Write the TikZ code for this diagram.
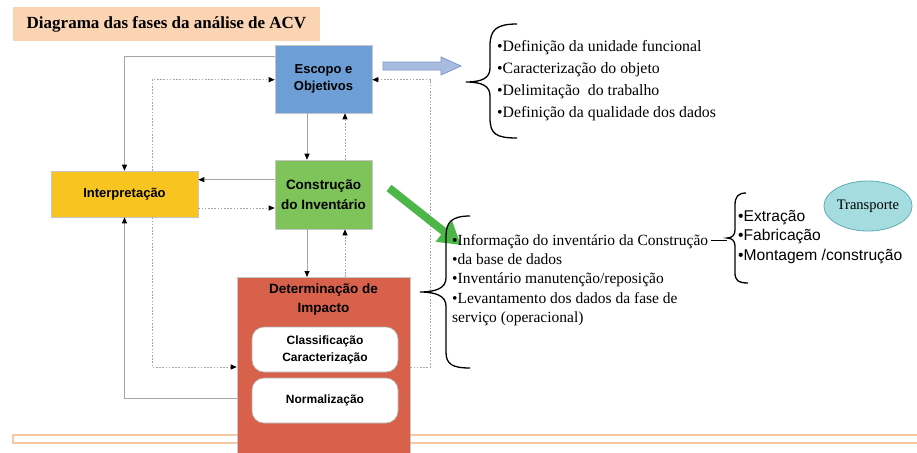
\documentclass[tikz,border=0pt]{standalone}
\usepackage{fontspec}
\setmainfont{Liberation Serif}
\setsansfont{Liberation Sans}
\usetikzlibrary{arrows.meta,calc,shapes.geometric}
\definecolor{peach}{HTML}{FBD4B4}
\definecolor{escblue}{HTML}{6D9FD6}
\definecolor{congreen}{HTML}{7EC45A}
\definecolor{intyellow}{HTML}{F8C520}
\definecolor{detred}{HTML}{D8614C}
\definecolor{arrowblue}{HTML}{A8BCE2}
\definecolor{arrowblueb}{HTML}{7F97CB}
\definecolor{greenarr}{HTML}{4DB649}
\definecolor{tealfill}{HTML}{A4DCE0}
\definecolor{tealdraw}{HTML}{62AEB4}
\definecolor{orangeline}{HTML}{F9C8A0}
\definecolor{linegrey}{HTML}{A6A6A6}
\begin{document}
\begin{tikzpicture}[x=1pt,y=-1pt,
  phasebox/.style={draw=gray!45,line width=0.6pt,inner sep=0pt,align=center,
    font=\sffamily\bfseries\fontsize{13}{17}\selectfont},
  innerbox/.style={draw=gray!60,fill=white,rounded corners=12pt,line width=0.6pt,
    minimum width=146pt,minimum height=45pt,inner sep=0pt,align=center,
    font=\sffamily\bfseries\fontsize{12}{17}\selectfont},
  tip/.style={-{Triangle[length=6pt,width=5pt,color=black]}},
  conn/.style={draw=linegrey,line width=0.8pt,tip},
  fb/.style={draw=linegrey,line width=0.8pt,dash pattern=on 1.6pt off 1.6pt,tip},
  bracepath/.style={draw=black,line width=1.3pt},
  serifl/.style={anchor=west,inner sep=0pt,align=left},
]
\useasboundingbox (0,0) rectangle (917,452);
\fill[white] (0,0) rectangle (917,452);

% title
\node[fill=peach,minimum width=307pt,minimum height=34pt,inner sep=0pt,
  font=\bfseries\fontsize{17}{20}\selectfont] (title) at (166.5,24) {Diagrama das fases da análise de ACV};

% bottom orange double line
\draw[orangeline,line width=1.6pt] (13,435) rectangle (930,443);

% phase boxes
\node[phasebox,fill=escblue,minimum width=97pt,minimum height=68pt] (esc) at (323.5,79) {Escopo e\\Objetivos};
\node[phasebox,fill=congreen,minimum width=97pt,minimum height=69pt,
  font=\sffamily\bfseries\fontsize{13.5}{20}\selectfont] (con) at (323.5,194.5) {Construção\\do Inventário};
\node[phasebox,fill=intyellow,minimum width=147pt,minimum height=46pt] (int) at (124.5,194) {Interpretação};
\node[draw=gray!45,line width=0.6pt,fill=detred,minimum width=173pt,minimum height=185pt,
  inner sep=0pt,anchor=north] (det) at (323.5,277) {};
\node[inner sep=0pt,align=center,font=\sffamily\bfseries\fontsize{13.5}{19}\selectfont]
  (dett) at (323.5,299.5) {Determinação de\\Impacto};
\node[innerbox] (cla) at (325,349.5) {Classificação\\Caracterização};
\node[innerbox] (nor) at (325,400.5) {Normalização};

% solid connectors
\draw[conn] ($(esc.north west)+(0,12)$) -| (int.north);
\draw[conn] ($(esc.south)+(-16.5,0)$) -- ($(con.north)+(-16.5,0)$);
\coordinate (c1) at ($(con.north west)+(0,20)$);
\draw[conn] (c1) -- (c1 -| int.east);
\coordinate (c2) at ($(con.south)+(-16.5,0)$);
\draw[conn] (c2) -- (c2 |- det.north);
\draw[conn] ($(det.north west)+(0,121)$) -| (int.south);

% dashed feedback connectors
\draw[fb] ($(int.north)+(27.5,0)$) |- ($(esc.north west)+(0,35)$);
\draw[fb] ($(int.south)+(27.5,0)$) |- ($(det.north west)+(0,90)$);
\coordinate (c3) at ($(int.east)+(0,14)$);
\draw[fb] (c3) -- (c3 -| con.west);
\coordinate (c4) at ($(con.north)+(21.5,0)$);
\draw[fb] (c4) -- (c4 |- esc.south);
\coordinate (c5) at ($(det.north)+(21.5,0)$);
\draw[fb] (c5) -- (c5 |- con.south);
\draw[fb] ($(det.north east)+(0,90)$) -- ++(20,0) |- ($(esc.north east)+(0,35)$);

% block arrow from Escopo
\draw[draw=arrowblueb,fill=arrowblue,line width=0.8pt]
  (383,62) -- (441,62) -- (441,57) -- (461,66) -- (441,75) -- (441,70) -- (383,70) -- cycle;

% green arrow from Construcao
\draw[greenarr,line width=8pt,-{Triangle[length=22pt,width=25pt]}] (389,188) -- (461,245);

% brace 1 and list
\draw[bracepath] (517,24) .. controls (496,24) and (490,30) .. (490,46) -- (490,68)
  .. controls (490,78) and (482,82) .. (466,82) .. controls (482,82) and (490,86) .. (490,96)
  -- (490,118) .. controls (490,134) and (496,138) .. (517,138);
\node[serifl,font=\fontsize{15.8}{22}\selectfont] (l1) at (497,81)
  {•Definição da unidade funcional\\•Caracterização do objeto\\•Delimitação~ do trabalho\\•Definição da qualidade dos dados};

% brace 2 and list
\draw[bracepath] (470,216) .. controls (452,216) and (446,222) .. (446,236) -- (446,278)
  .. controls (446,288) and (436,292) .. (420,292) .. controls (436,292) and (446,296) .. (446,306)
  -- (446,352) .. controls (446,364) and (452,368) .. (470,368);
\node[serifl,font=\fontsize{15.5}{19.3}\selectfont] (l2) at (452,280)
  {•Informação do inventário da Construção\\•da base de dados\\•Inventário manutenção/reposição\\•Levantamento dos dados da fase de\\serviço (operacional)};

% brace 3 and list
\draw[line width=1pt] (711,240) -- (727,240);
\draw[bracepath] (746,193) .. controls (738,193) and (735,197) .. (735,205) -- (735,230)
  .. controls (735,235) and (732,238) .. (727,238) .. controls (732,238) and (735,241) .. (735,246)
  -- (735,273) .. controls (735,280) and (738,283) .. (748,283);
\node[serifl,font=\sffamily\fontsize{15.6}{19.5}\selectfont] (l3) at (738,237)
  {•Extração\\•Fabricação\\•Montagem /construção};

% Transporte
\node[ellipse,draw=tealdraw,fill=tealfill,line width=0.8pt,minimum width=78pt,minimum height=50pt,
  inner sep=0pt,font=\fontsize{14.5}{17}\selectfont] (tr) at (868,206) {Transporte};
\end{tikzpicture}
\end{document}
